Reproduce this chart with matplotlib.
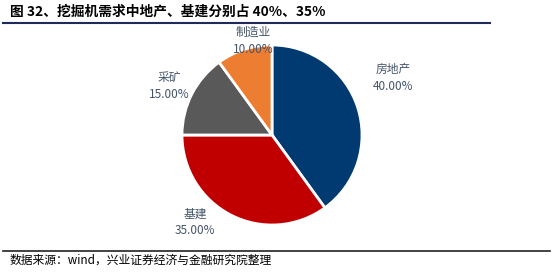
import matplotlib
matplotlib.use("Agg")
import matplotlib.pyplot as plt
from matplotlib.lines import Line2D

plt.rcParams['font.family'] = ['Noto Sans CJK SC', 'DejaVu Sans']

categories = ['房地产', '基建', '采矿', '制造业']
values = [40.0, 35.0, 15.0, 10.0]
colors = ['#003A70', '#C00000', '#595959', '#ED7D31']
title = '图 32、挖掘机需求中地产、基建分别占 40%、35%'
source = '数据来源：wind，兴业证券经济与金融研究院整理'

W, H = 554, 273
fig = plt.figure(figsize=(W / 100, H / 100), dpi=100)

cx, cy, R = 272, 135, 90  # pixel centre and radius
half = 110
ax = fig.add_axes([(cx - half) / W, 1 - (cy + half) / H, 2 * half / W, 2 * half / H])
ax.pie(values, colors=colors, startangle=90, counterclock=False,
       wedgeprops=dict(edgecolor='white', linewidth=2.0))
lim = half / R
ax.set_xlim(-lim, lim)
ax.set_ylim(-lim, lim)
ax.set_aspect('equal')
ax.axis('off')

# label positions in pixels (layout)
label_px = [(393, 78), (195, 222), (169, 86), (253, 41)]
for cat, val, (px, py) in zip(categories, values, label_px):
    ax.text((px - cx) / R, (cy - py) / R, f'{cat}\n{val:.2f}%', ha='center', va='center',
            fontsize=8.5, color='#44546A', linespacing=1.35)

fig.text(10 / W, 1 - 12 / H, title, fontsize=9.9, fontweight='bold', color='black',
         ha='left', va='center')
fig.add_artist(Line2D([3 / W, 490 / W], [1 - 23 / H, 1 - 23 / H], color='#1F2A5C', lw=1.5))
fig.add_artist(Line2D([3 / W, 550 / W], [1 - 251 / H, 1 - 251 / H], color='#222222', lw=1.2))
fig.text(10 / W, 1 - 260 / H, source, fontsize=8.5, color='black', ha='left', va='center')

fig.savefig('out.png', dpi=100)
